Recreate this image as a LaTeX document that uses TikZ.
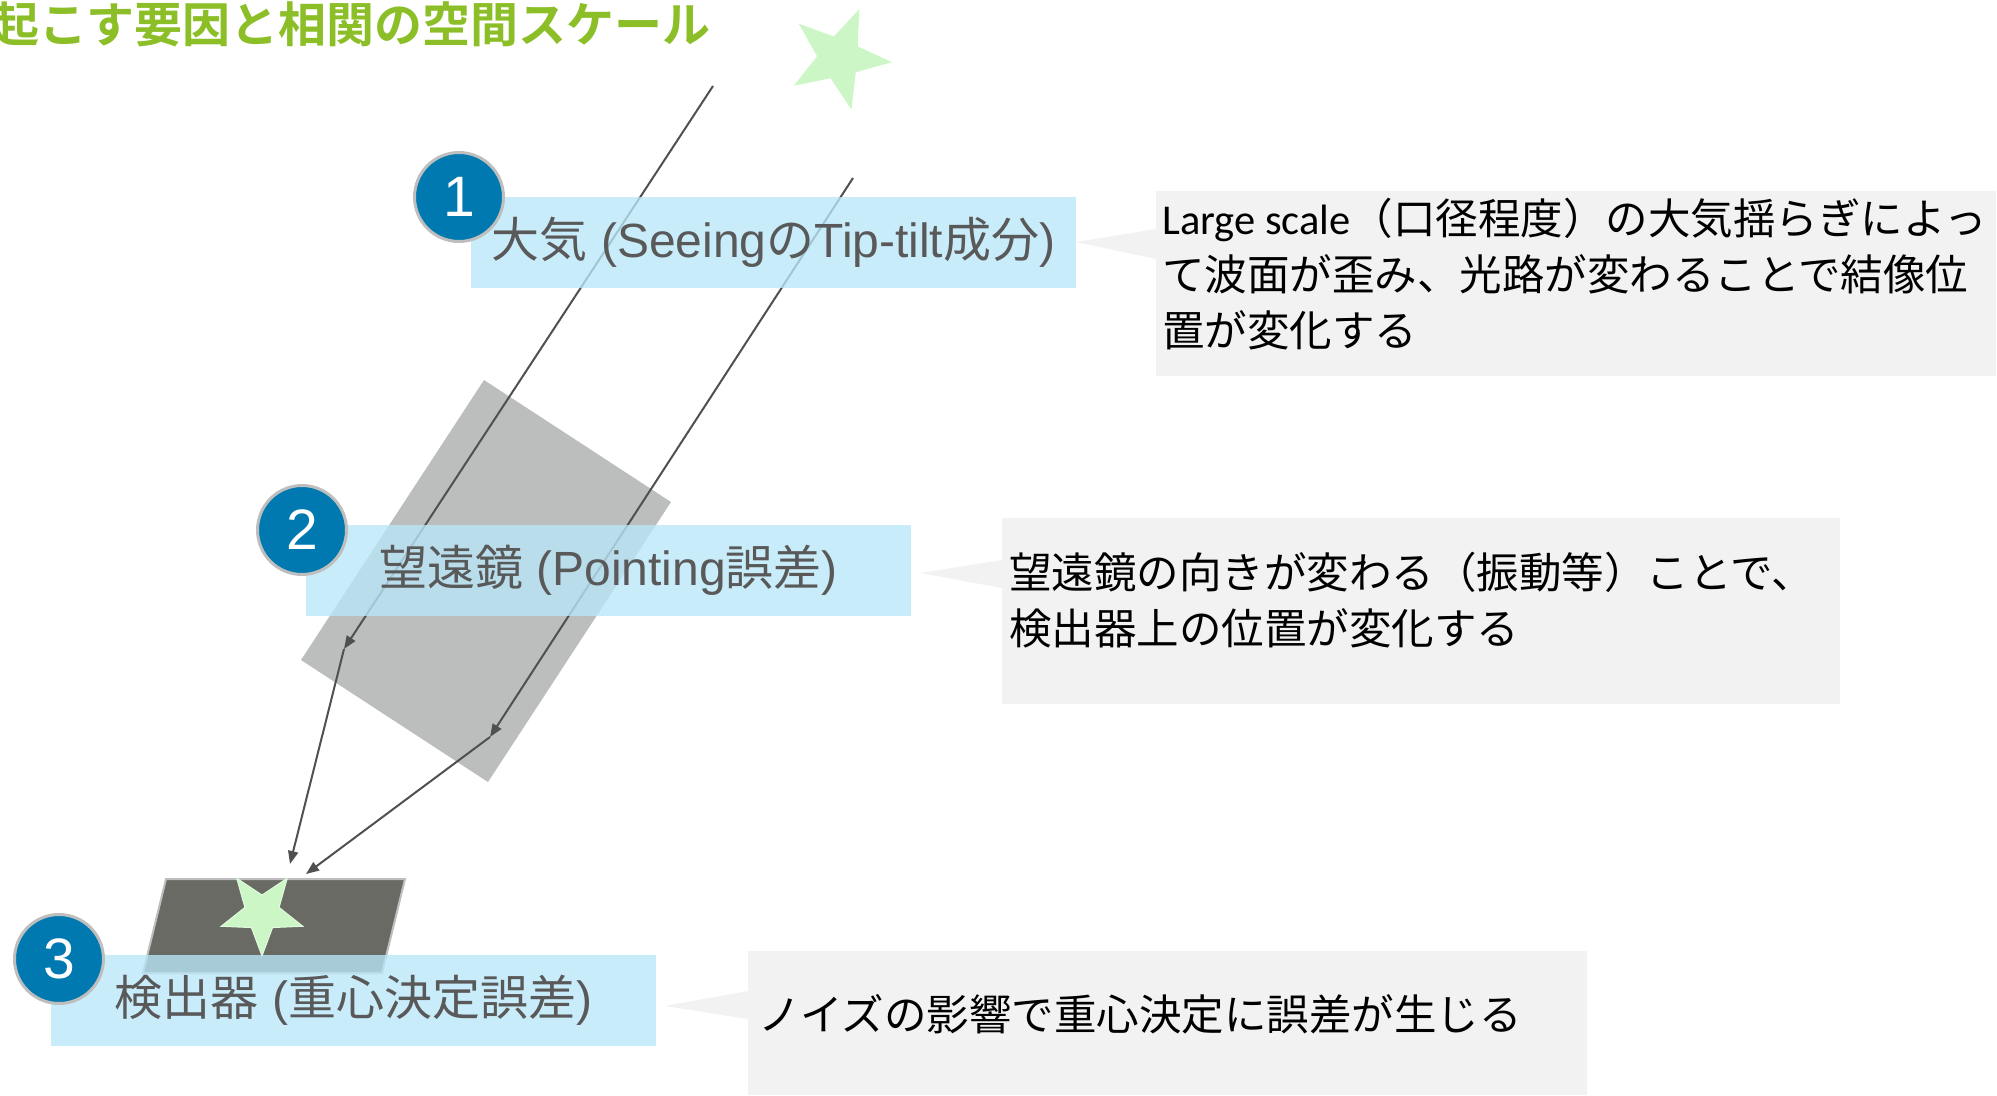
\documentclass[tikz,border=0pt]{standalone}
\usepackage{fontspec}
\setmainfont{Liberation Sans}
\newfontfamily\cjk{Noto Sans CJK JP}
\newfontfamily\cjkb{Noto Sans CJK JP Bold}
\newfontfamily\latn{Carlito}
\usetikzlibrary{arrows.meta}
\definecolor{titlegreen}{RGB}{140,190,40}
\definecolor{labelblue}{RGB}{186,231,249}
\definecolor{numblue}{RGB}{0,121,176}
\definecolor{ringgray}{RGB}{190,190,190}
\definecolor{textgray}{RGB}{89,89,89}
\definecolor{calloutgray}{RGB}{242,242,242}
\definecolor{scopegray}{RGB}{188,189,189}
\definecolor{detgray}{RGB}{106,106,100}
\definecolor{stargreen}{RGB}{204,246,198}
\definecolor{raygray}{RGB}{80,80,80}
\begin{document}
\begin{tikzpicture}[x=1pt,y=-1pt,
  lbl/.style={fill=labelblue, fill opacity=0.78, text opacity=1, text=textgray,
    minimum width=605pt, minimum height=91pt, inner sep=0pt,
    font=\fontsize{48}{56}\selectfont},
  num/.style={circle, fill=numblue, draw=ringgray, line width=3pt, minimum size=89pt,
    inner sep=0pt, text=white, font=\fontsize{57}{64}\selectfont},
  callout/.style={fill=calloutgray, inner sep=0pt, anchor=north west},
  ctext/.style={anchor=north west, inner sep=0pt, align=left, text=black,
    font=\cjk\fontsize{42.5}{56}\selectfont},
  ray/.style={draw=raygray, line width=2pt, -{Triangle[length=13pt,width=10pt]}},
]
\useasboundingbox (0,0) rectangle (1997,1095);

% telescope and detector
\fill[scopegray] (484,380) -- (671,502) -- (488,782) -- (301,660) -- cycle;
\filldraw[fill=detgray, draw=ringgray, line width=2pt] (166,879) -- (405,879) -- (382,973) -- (143,973) -- cycle;
\filldraw[fill=stargreen, draw=stargreen!60!white, line width=1pt, shift={(262,913)}]
  plot[samples at={0,...,9}, variable=\k] ({\k*36+90}:{43-25*mod(\k,2)}) -- cycle;

% rays
\coordinate (a0) at (713,86);
\coordinate (a1) at (344,649);
\coordinate (a2) at (290,864);
\coordinate (b0) at (853,178);
\coordinate (b1) at (490,737);
\coordinate (b2) at (306,874);
\draw[ray] (a0) -- (a1);
\draw[ray] (a1) -- (a2);
\draw[ray] (b0) -- (b1);
\draw[ray] (b1) -- (b2);

% labels
\node[lbl] (l1) at (773.5,242.5) {{\cjk 大気} (Seeing{\cjk の}Tip-tilt{\cjk 成分})};
\node[lbl] (l2) at (608.5,570.5) {{\cjk 望遠鏡} (Pointing{\cjk 誤差})};
\node[lbl] (l3) at (353.5,1000.5) {{\cjk 検出器} ({\cjk 重心決定誤差})};

\node[num] (n1) at (459,197) {1};
\node[num] (n2) at (302,530) {2};
\node[num] (n3) at (59,959) {3};

% callouts
\node[callout, minimum width=840pt, minimum height=185pt] (c1) at (1156,191) {};
\fill[calloutgray] (1076,242) -- (1156,229) -- (1156,259) -- cycle;
\node[ctext] (t1) at (1162,198) {{\latn Large scale}（口径程度）の大気揺らぎによっ\\て波面が歪み、光路が変わることで結像位\\置が変化する};

\node[callout, minimum width=838pt, minimum height=186pt] (c2) at (1002,518) {};
\fill[calloutgray] (920,573) -- (1002,560) -- (1002,588) -- cycle;
\node[ctext] (t2) at (1009,552) {望遠鏡の向きが変わる（振動等）ことで、\\検出器上の位置が変化する};

\node[callout, minimum width=839pt, minimum height=144pt] (c3) at (748,951) {};
\fill[calloutgray] (665,1006) -- (748,991) -- (748,1019) -- cycle;
\node[ctext] (t3) at (758,994) {ノイズの影響で重心決定に誤差が生じる};

% title and star
\node[anchor=base west, inner sep=0pt, text=titlegreen, font=\cjkb\fontsize{48}{56}\selectfont] (title) at (-9,42) {起こす要因と相関の空間スケール};
\fill[stargreen, shift={(839,58)}]
  plot[samples at={0,...,9}, variable=\k] ({\k*36+76.5}:{53-31*mod(\k,2)}) -- cycle;
\end{tikzpicture}
\end{document}
